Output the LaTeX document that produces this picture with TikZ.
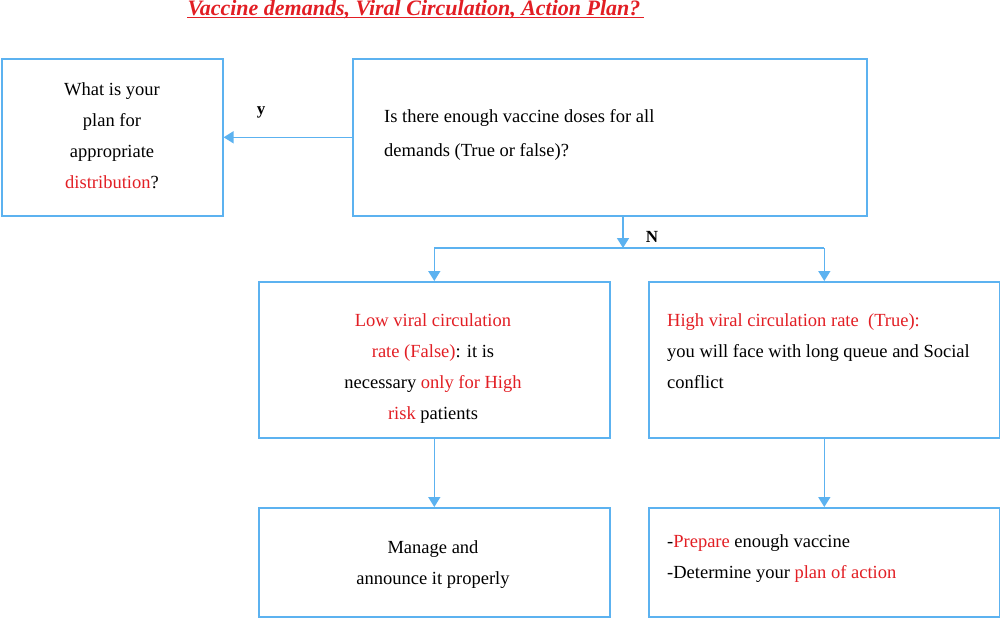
\documentclass[tikz,border=0pt]{standalone}
\usepackage{fontspec}
\setmainfont{Liberation Serif}
\usetikzlibrary{arrows.meta}
\definecolor{lineblue}{RGB}{92,178,240}
\definecolor{txtred}{RGB}{226,30,36}
\newcommand{\rd}[1]{\textcolor{txtred}{#1}}
\begin{document}
\begin{tikzpicture}[x=1pt,y=-1pt,
  box/.style={draw=lineblue, line width=1.6pt, inner sep=0pt, anchor=north west},
  conn/.style={draw=lineblue, line width=1.6pt},
  arr/.style={conn, -{Triangle[length=10pt,width=12pt]}},
  txt/.style={inner sep=0pt, font=\fontsize{18.5}{31}\selectfont},
  lbl/.style={inner sep=0pt, font=\fontsize{17}{19}\selectfont\bfseries}]
\useasboundingbox (0,0) rectangle (1000,621);
% title
\node[inner sep=0pt, anchor=base, text=txtred, font=\fontsize{22}{24}\selectfont\bfseries\itshape] (title) at (414,15.5) {Vaccine demands, Viral Circulation, Action Plan?};
\draw[txtred, line width=1.2pt] ([yshift=-2.2pt]title.base west) -- ([yshift=-2.2pt,xshift=3pt]title.base east);
% boxes
\node[box, minimum width=221pt, minimum height=157pt] (A) at (1,58) {};
\node[box, minimum width=514pt, minimum height=157pt] (B) at (352,58) {};
\node[box, minimum width=351pt, minimum height=156pt] (C) at (258,281) {};
\node[box, minimum width=351pt, minimum height=156pt] (D) at (648,281) {};
\node[box, minimum width=351pt, minimum height=109pt] (E) at (258,507) {};
\node[box, minimum width=351pt, minimum height=109pt] (F) at (648,507) {};
% texts
\node[txt, align=center] (ta) at (112,135.5) {What is your\\plan for\\appropriate\\\rd{distribution}?};
\node[txt, align=left, anchor=west, font=\fontsize{18.5}{34}\selectfont] (tb) at (384,135) {Is there enough vaccine doses for all\\demands (True or false)?};
\node[txt, align=center] (tc) at (433,368.5) {\rd{Low viral circulation}\\\rd{rate (False)}: it is\\necessary \rd{only for High}\\\rd{risk} patients};
\node[txt, align=left, anchor=west] (td) at (667,351) {\rd{High viral circulation rate\ \ (True):}\\you will face with long queue and Social\\conflict};
\node[txt, align=center] (te) at (433,564.5) {Manage and\\announce it properly};
\node[txt, align=left, anchor=west] (tf) at (667,559) {-\rd{Prepare} enough vaccine\\-Determine your \rd{plan of action}};
% connectors
\coordinate (split) at (623,248);
\coordinate (jl) at (C.north |- split);
\coordinate (jr) at (D.north |- split);
\draw[arr] (B.west) -- (A.east);
\draw[arr] (B.south -| split) -- (split);
\draw[conn] (jl) -- (jr);
\draw[arr] (jl) -- (C.north);
\draw[arr] (jr) -- (D.north);
\draw[arr] (C.south) -- (E.north);
\draw[arr] (D.south) -- (F.north);
% labels
\node[lbl] (ly) at (261,112) {y};
\node[lbl] (ln) at (652,237) {N};
\end{tikzpicture}
\end{document}
